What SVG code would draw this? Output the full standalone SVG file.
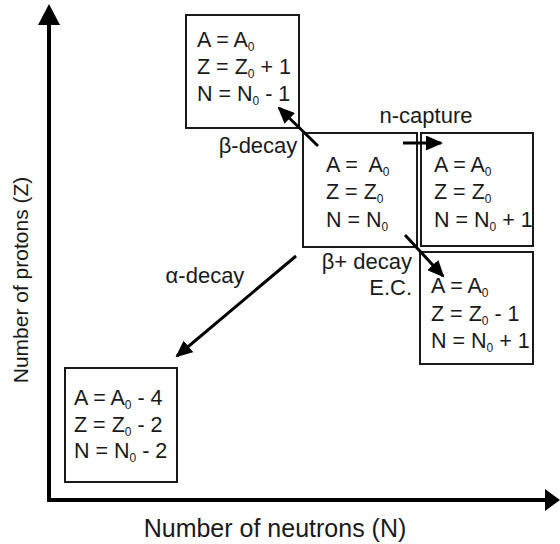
<svg xmlns="http://www.w3.org/2000/svg" width="560" height="544" viewBox="0 0 560 544">
<defs>
<style>
text{font-family:"Liberation Sans",Arial,sans-serif;fill:#1a1a1a;}
.t{font-size:21.5px;}
.s{font-size:12px;}
.box{fill:#fff;stroke:#1a1a1a;stroke-width:2;}
.ax{stroke:#000;stroke-width:4;fill:none;}
.ar{stroke:#000;stroke-width:3;fill:none;}
.lab{font-size:22px;}
</style>
<marker id="ah" viewBox="0 0 17 15" refX="15" refY="7.5" markerWidth="17" markerHeight="15" markerUnits="userSpaceOnUse" orient="auto">
<path d="M0,0 L17,7.5 L0,15 Z" fill="#000"/>
</marker>
</defs>
<rect width="560" height="544" fill="#fff"/>
<g id="axes">
<line class="ax" x1="49" y1="502" x2="49" y2="22"/>
<polygon points="49,4 38,25 60,25" fill="#000"/>
<line class="ax" x1="47" y1="500" x2="545" y2="500"/>
<polygon points="560,500 545,489 545,511" fill="#000"/>
<text x="275" y="537" text-anchor="middle" style="font-size:25px">Number of neutrons (N)</text>
<text transform="translate(28,280) rotate(-90)" text-anchor="middle" style="font-size:21px">Number of protons (Z)</text>
</g>
<g id="beta-minus-node">
<rect class="box" x="186" y="15" width="113" height="113"/>
<text class="t" x="197" y="47">A = A<tspan class="s" dy="4">0</tspan></text>
<text class="t" x="197" y="74">Z = Z<tspan class="s" dy="4">0</tspan><tspan dy="-4"> + 1</tspan></text>
<text class="t" x="197" y="101">N = N<tspan class="s" dy="4">0</tspan><tspan dy="-4"> - 1</tspan></text>
</g>
<g id="center-node">
<rect class="box" x="303" y="133" width="114" height="114"/>
<text class="t" x="326" y="172" style="white-space:pre">A =  A<tspan class="s" dy="4">0</tspan></text>
<text class="t" x="326" y="199">Z = Z<tspan class="s" dy="4">0</tspan></text>
<text class="t" x="326" y="227">N = N<tspan class="s" dy="4">0</tspan></text>
</g>
<g id="n-capture-node">
<rect class="box" x="421" y="133" width="112" height="113"/>
<text class="t" x="434" y="172">A = A<tspan class="s" dy="4">0</tspan></text>
<text class="t" x="434" y="199">Z = Z<tspan class="s" dy="4">0</tspan></text>
<text class="t" x="434" y="227">N = N<tspan class="s" dy="4">0</tspan><tspan dy="-4"> + 1</tspan></text>
</g>
<g id="beta-plus-node">
<rect class="box" x="420" y="252" width="113" height="112"/>
<text class="t" x="431" y="293">A = A<tspan class="s" dy="4">0</tspan></text>
<text class="t" x="431" y="321">Z = Z<tspan class="s" dy="4">0</tspan><tspan dy="-4"> - 1</tspan></text>
<text class="t" x="431" y="348">N = N<tspan class="s" dy="4">0</tspan><tspan dy="-4"> + 1</tspan></text>
</g>
<g id="alpha-node">
<rect class="box" x="65" y="368" width="112" height="114"/>
<text class="t" x="74" y="405">A = A<tspan class="s" dy="4">0</tspan><tspan dy="-4"> - 4</tspan></text>
<text class="t" x="74" y="432">Z = Z<tspan class="s" dy="4">0</tspan><tspan dy="-4"> - 2</tspan></text>
<text class="t" x="74" y="458">N = N<tspan class="s" dy="4">0</tspan><tspan dy="-4"> - 2</tspan></text>
</g>
<g id="connectors">
<line class="ar" x1="318" y1="146" x2="279" y2="108" marker-end="url(#ah)"/>
<line class="ar" x1="403" y1="143" x2="441" y2="143" marker-end="url(#ah)"/>
<line class="ar" x1="405" y1="235" x2="443" y2="276" marker-end="url(#ah)"/>
<line class="ar" x1="296" y1="256" x2="177" y2="356" marker-end="url(#ah)"/>
<text class="lab" x="258" y="153" text-anchor="middle">β-decay</text>
<text class="lab" x="426" y="123" text-anchor="middle">n-capture</text>
<text class="lab" x="412" y="269" text-anchor="end">β+ decay</text>
<text class="lab" x="412" y="295" text-anchor="end">E.C.</text>
<text class="lab" x="205" y="283" text-anchor="middle">α-decay</text>
</g>
</svg>
